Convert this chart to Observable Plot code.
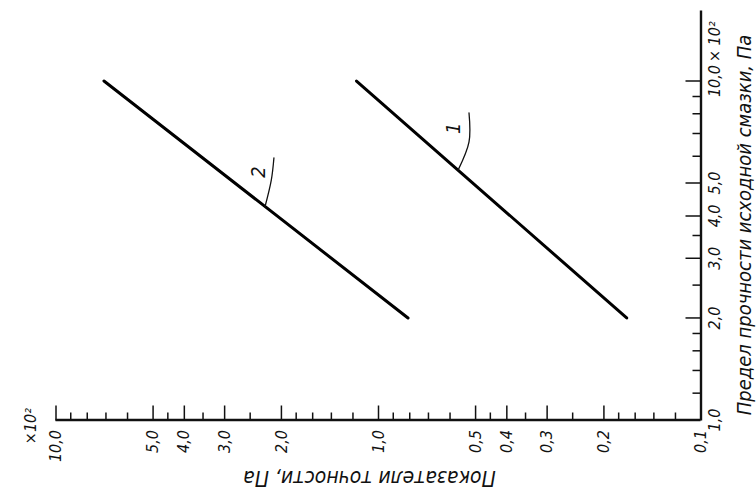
<!DOCTYPE html>
<html>
<head>
<meta charset="utf-8">
<script src="https://cdn.jsdelivr.net/npm/d3@7"></script>
<script src="https://cdn.jsdelivr.net/npm/@observablehq/plot@0.6"></script>
<style>
  html, body { margin: 0; padding: 0; background: #fff; }
  body { width: 756px; height: 493px; overflow: hidden; position: relative; }
  #chart { position: absolute; left: 131.5px; top: -131.5px; width: 493px; height: 756px;
           transform: rotate(-90deg); transform-origin: 50% 50%; }
  #chart svg { display: block; }
</style>
</head>
<body>
<div id="chart"></div>
<script>
// Upright chart (the reference is the scan turned 90° counter‑clockwise)
// x: Предел прочности исходной смазки (×10² Па), y: Показатели точности (×10² Па)
const predelMajor = [1, 2, 3, 4, 5, 10];
const predelMinor = [1.2, 1.4, 1.6, 1.8, 2.5, 3.5, 6, 7, 8, 9];
const pokazMajor = [0.1, 0.2, 0.3, 0.4, 0.5, 1, 2, 3, 4, 5, 10];
const pokazMinor = [0.12, 0.14, 0.16, 0.18, 0.25, 0.35, 0.45, 0.6, 0.7, 0.8, 0.9,
                    1.2, 1.4, 1.6, 1.8, 2.5, 3.5, 4.5, 6, 7, 8, 9];

const seriesNames = ["1", "2"];
const predelValues = [2, 10];
const pokazLine1 = [0.17, 1.17];
const pokazLine2 = [0.81, 7.1];

// leader (callout) lines and their numbers
const leader1Predel = [5.47, 6.61, 8.05];
const leader1Pokaz = [0.566, 0.524, 0.524];
const leader2Predel = [4.25, 5.10, 5.93];
const leader2Pokaz = [2.25, 2.15, 2.11];
const labelPredel = [7.26, 5.39];
const labelPokaz = [0.583, 2.35];

const xLabel = "Предел прочности исходной смазки, Па";
const yLabel = "Показатели точности, Па";
const multiplier = "× 10²";

const W = 493, H = 756, mL = 73, mR = 10, mT = 55, mB = 56;
const innerW = W - mL - mR, innerH = H - mT - mB;

const lines = [];
[pokazLine1, pokazLine2].forEach((arr, i) =>
  arr.forEach((v, j) => lines.push({series: seriesNames[i], predel: predelValues[j], pokaz: v})));
const leaders = [];
[[leader1Predel, leader1Pokaz], [leader2Predel, leader2Pokaz]].forEach(([px, py], i) =>
  px.forEach((v, j) => leaders.push({series: seriesNames[i], predel: v, pokaz: py[j]})));
const labels = seriesNames.map((s, i) => ({text: s, predel: labelPredel[i], pokaz: labelPokaz[i]}));

const fmt = d => d.toFixed(1).replace(".", ",");
const font = '"DejaVu Sans Condensed", "Liberation Sans Narrow", "DejaVu Sans", sans-serif';

const chart = Plot.plot({
  width: W, height: H,
  marginLeft: mL, marginRight: mR, marginTop: mT, marginBottom: mB,
  x: {type: "log", domain: [1, 16.2], axis: null},
  y: {type: "log", domain: [0.1, 10], axis: null},
  style: {fontFamily: font, fontStyle: "italic", fontSize: "16px", background: "#fff", color: "#111"},
  marks: [
    // ticks (inward)
    Plot.ruleX(predelMajor.filter(d => d > 1), {insetTop: innerH - 15, stroke: "#111", strokeWidth: 1.5}),
    Plot.ruleX(predelMinor, {insetTop: innerH - 8, stroke: "#111", strokeWidth: 1.5}),
    Plot.ruleY(pokazMajor.filter(d => d > 0.1), {insetRight: innerW - 15, stroke: "#111", strokeWidth: 1.5}),
    Plot.ruleY(pokazMinor, {insetRight: innerW - 8, stroke: "#111", strokeWidth: 1.5}),
    // axis lines
    Plot.ruleY([pokazMajor[0]], {stroke: "#111", strokeWidth: 2.4}),
    Plot.ruleX([predelMajor[0]], {stroke: "#111", strokeWidth: 2.4}),
    // tick labels
    Plot.axisX(predelMajor, {tickSize: 0, tickPadding: 8, tickFormat: fmt, label: null, fontSize: 16}),
    Plot.axisY(pokazMajor, {tickSize: 0, tickPadding: 10, tickFormat: fmt, label: null, fontSize: 16}),
    Plot.text([multiplier], {x: predelMajor.at(-1), y: pokazMajor[0], frameAnchor: "bottom",
      textAnchor: "start", lineAnchor: "top", dx: 19, dy: 8, fontSize: 16}),
    Plot.text([multiplier.replace(" ", "")], {x: predelMajor[0], y: pokazMajor.at(-1),
      textAnchor: "end", lineAnchor: "middle", dx: 12, dy: -25, fontSize: 16}),
    // axis titles
    Plot.text([xLabel], {frameAnchor: "bottom", textAnchor: "middle", lineAnchor: "middle", dy: 44, dx: -10, fontSize: 20}),
    Plot.text([yLabel], {frameAnchor: "left", textAnchor: "middle", lineAnchor: "middle", rotate: -90, dx: -58, dy: -9, fontSize: 21}),
    // data
    Plot.line(lines, {x: "predel", y: "pokaz", z: "series", stroke: "#000", strokeWidth: 3}),
    Plot.line(leaders, {x: "predel", y: "pokaz", z: "series", stroke: "#111", strokeWidth: 1.3, curve: "catmull-rom"}),
    Plot.text(labels, {x: "predel", y: "pokaz", text: "text", fontSize: 20, lineAnchor: "middle"})
  ]
});
document.getElementById("chart").appendChild(chart);
</script>
</body>
</html>
